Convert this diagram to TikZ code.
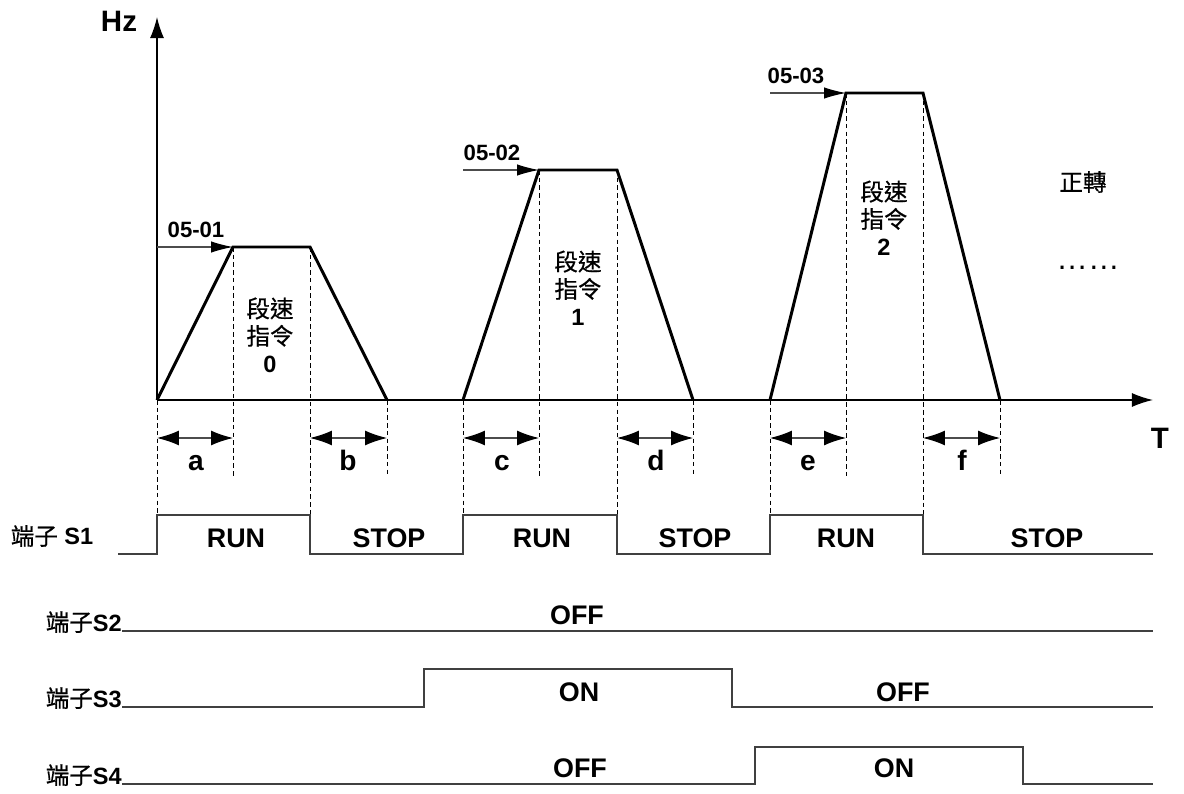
\documentclass[tikz,border=0pt]{standalone}
\usepackage{fontspec}
\setmainfont{Liberation Sans}
\newfontfamily\cjk[FakeBold=0.6]{Noto Sans CJK TC}
\usetikzlibrary{arrows.meta}
\newcommand\fzHz{\fontsize{16.8pt}{19pt}\selectfont\bfseries}
\newcommand\fzPar{\fontsize{12.6pt}{15pt}\selectfont\bfseries}
\newcommand\fzSig{\fontsize{15.3pt}{18pt}\selectfont\bfseries}
\newcommand\fzLet{\fontsize{16pt}{19pt}\selectfont\bfseries}
\newcommand\fzStage{\fontsize{13.4pt}{15.6pt}\selectfont}
\newcommand\fzTerm{\fontsize{13.4pt}{15pt}\selectfont}
\begin{document}
\begin{tikzpicture}[x=0.02cm,y=-0.02cm,
  axisline/.style={line width=0.85pt,-{Latex[length=12pt,width=8pt]}},
  ramp/.style={line width=1.7pt,line join=miter},
  guide/.style={line width=0.55pt,dash pattern=on 2.6pt off 1.8pt},
  setarrow/.style={line width=0.6pt,black!70,-{Latex[length=12.5pt,width=6.5pt,black]}},
  span/.style={line width=0.6pt,black!70,{Latex[length=12.5pt,width=8.5pt,black]}-{Latex[length=12.5pt,width=8.5pt,black]}},
  signal/.style={line width=0.8pt,black!75},
  txt/.style={inner sep=0pt}]
\useasboundingbox (0,0) rectangle (1184,794);

% axes
\coordinate (O) at (157,400);
\coordinate (ytop) at (157,17);
\coordinate (xend) at (1153,400);
\draw[axisline] (O) -- (ytop);
\draw[axisline] (O) -- (xend);
\node[txt,font=\fzHz] (hz) at (119,21) {Hz};
\node[txt,font=\fzHz] (tlab) at (1160,438) {T};

% trapezoid vertices
\coordinate (a1) at (157,400); \coordinate (b1) at (233,247);
\coordinate (c1) at (310,247); \coordinate (d1) at (387,400);
\coordinate (a2) at (463,400); \coordinate (b2) at (539,170);
\coordinate (c2) at (617,170); \coordinate (d2) at (693,400);
\coordinate (a3) at (770,400); \coordinate (b3) at (846,93);
\coordinate (c3) at (923,93);  \coordinate (d3) at (1000,400);
\draw[ramp] (a1) -- (b1) -- (c1) -- (d1);
\draw[ramp] (a2) -- (b2) -- (c2) -- (d2);
\draw[ramp] (a3) -- (b3) -- (c3) -- (d3);

% set-point arrows
\coordinate (s1) at (157,247); \coordinate (s2) at (463,170); \coordinate (s3) at (770,93);
\draw[setarrow] (s1) -- (b1);
\draw[setarrow] (s2) -- (b2);
\draw[setarrow] (s3) -- (b3);
\node[txt,font=\fzPar] (p1) at (196,230) {05-01};
\node[txt,font=\fzPar] (p2) at (492,153) {05-02};
\node[txt,font=\fzPar] (p3) at (796,76) {05-03};

% stage labels
\node[txt,font=\fzStage,align=center] (st0) at (270,335) {{\cjk 段速}\\{\cjk 指令}\\\textbf{0}};
\node[txt,font=\fzStage,align=center] (st1) at (578,288) {{\cjk 段速}\\{\cjk 指令}\\\textbf{1}};
\node[txt,font=\fzStage,align=center] (st2) at (884,218) {{\cjk 段速}\\{\cjk 指令}\\\textbf{2}};
\node[txt,font=\fzStage] (fwd) at (1083,182) {\cjk 正轉};
\node[txt,font=\fontsize{18pt}{20pt}\selectfont] (dots) at (1088,268) {……};

% guide lines
\coordinate (ga1) at (157,515); \coordinate (gb1) at (233,477);
\coordinate (gc1) at (310,515); \coordinate (gd1) at (387,477);
\coordinate (ga2) at (463,515); \coordinate (gb2) at (539,477);
\coordinate (gc2) at (617,515); \coordinate (gd2) at (693,477);
\coordinate (ga3) at (770,515); \coordinate (gb3) at (846,477);
\coordinate (gc3) at (923,515); \coordinate (gd3) at (1000,477);
\foreach \i in {1,2,3}{
  \draw[guide] (a\i) -- (ga\i);
  \draw[guide] (b\i) -- (gb\i);
  \draw[guide] (c\i) -- (gc\i);
  \draw[guide] (d\i) -- (gd\i);
}

% span arrows
\draw[span] (157,438) -- (233,438);
\draw[span] (310,438) -- (387,438);
\draw[span] (463,438) -- (539,438);
\draw[span] (617,438) -- (693,438);
\draw[span] (770,438) -- (846,438);
\draw[span] (923,438) -- (1000,438);
\node[txt,font=\fzLet,anchor=base] (la) at (196,470) {a};
\node[txt,font=\fzLet,anchor=base] (lb) at (348,470) {b};
\node[txt,font=\fzLet,anchor=base] (lc) at (502,470) {c};
\node[txt,font=\fzLet,anchor=base] (ld) at (656,470) {d};
\node[txt,font=\fzLet,anchor=base] (le) at (808,470) {e};
\node[txt,font=\fzLet,anchor=base] (lf) at (962,470) {f};

% S1
\node[txt,font=\fzTerm] (t1) at (52,536) {{\cjk 端子} \textbf{S1}};
\coordinate (s1start) at (118,554);
\draw[signal] (s1start) -- (157,554) -- (ga1) -- (gc1) -- (310,554) -- (463,554) -- (ga2) -- (gc2)
  -- (617,554) -- (770,554) -- (ga3) -- (gc3) -- (923,554) -- (1153,554);
\node[txt,font=\fzSig] (r1) at (236,538) {RUN};
\node[txt,font=\fzSig] (q1) at (389,538) {STOP};
\node[txt,font=\fzSig] (r2) at (542,538) {RUN};
\node[txt,font=\fzSig] (q2) at (695,538) {STOP};
\node[txt,font=\fzSig] (r3) at (846,538) {RUN};
\node[txt,font=\fzSig] (q3) at (1047,538) {STOP};

% S2
\node[txt,font=\fzTerm,anchor=base east] (t2) at (122,631) {{\cjk 端子}\textbf{S2}};
\draw[signal] (t2.base east) -- (1153,631);
\node[txt,font=\fzSig] (o2) at (577,615) {OFF};

% S3
\node[txt,font=\fzTerm,anchor=base east] (t3) at (122,707) {{\cjk 端子}\textbf{S3}};
\draw[signal] (t3.base east) -- (424,707) -- (424,669) -- (732,669) -- (732,707) -- (1153,707);
\node[txt,font=\fzSig] (n3) at (579,692) {ON};
\node[txt,font=\fzSig] (o3) at (903,692) {OFF};

% S4
\node[txt,font=\fzTerm,anchor=base east] (t4) at (122,784) {{\cjk 端子}\textbf{S4}};
\draw[signal] (t4.base east) -- (755,784) -- (755,747) -- (1023,747) -- (1023,784) -- (1153,784);
\node[txt,font=\fzSig] (o4) at (580,768) {OFF};
\node[txt,font=\fzSig] (n4) at (894,768) {ON};
\end{tikzpicture}
\end{document}
